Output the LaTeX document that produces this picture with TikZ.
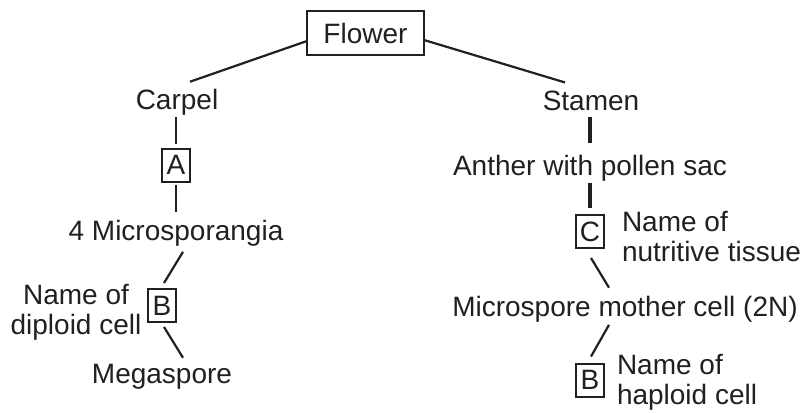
\documentclass[tikz,border=0pt]{standalone}
\usepackage{fontspec}
\setmainfont{Liberation Sans}
\usetikzlibrary{calc}
\definecolor{ink}{HTML}{231F20}
\begin{document}
\begin{tikzpicture}[x=1pt,y=-1pt,
  every node/.style={inner sep=0pt,outer sep=0pt,text=ink,
    font=\fontsize{28}{30}\selectfont},
  label box/.style={draw=ink,line width=2pt,minimum width=28pt,minimum height=33pt},
  link/.style={draw=ink,line width=2.2pt},
  stem/.style={draw=ink,line width=2.8pt},
  thickstem/.style={draw=ink,line width=3.5pt}]
\useasboundingbox (0,0) rectangle (802,412);

% root
\node[draw=ink,line width=2pt,minimum width=117pt,minimum height=44pt] (flower) at (365.5,33) {Flower};

% carpel branch
\node[anchor=base] (carpel) at (177,109) {Carpel};
\node[label box] (boxA) at (176,165) {A};
\node[anchor=base] (micro) at (176,240) {4 Microsporangia};
\node[label box] (boxB1) at (162,305.5) {B};
\node[align=center] (diploid) at (76,312) {Name of\\diploid cell};
\node[anchor=base] (mega) at (162,383) {Megaspore};

% stamen branch
\node[anchor=base] (stamen) at (591,110) {Stamen};
\node[anchor=base] (anther) at (590,175) {Anther with pollen sac};
\node[label box] (boxC) at (590,231.5) {C};
\node[anchor=west,align=left] (nutritive) at (622,237) {Name of\\nutritive tissue};
\node[anchor=base] (mmc) at (625,316) {Microspore mother cell (2N)};
\node[label box] (boxB2) at (590,380) {B};
\node[anchor=west,align=left] (haploid) at (617,382) {Name of\\haploid cell};

% connectors
\draw[link] ($(flower.west)+(0,8)$) -- ($(carpel.north)+(13,-7)$);
\draw[link] ($(flower.east)+(0,7)$) -- ($(stamen.north)+(-26,-8)$);

\draw[stem] ($(boxA.north |- carpel.south)+(0,2)$) -- ($(boxA.north)+(0,-5)$);
\draw[stem] ($(boxA.south)+(0,3)$) -- ($(boxA.south |- micro.north)+(0,-8)$);
\draw[link] ($(micro.south)+(7,6)$) -- ($(boxB1.north)+(2,-6)$);
\draw[link] ($(boxB1.south)+(2,5)$) -- ($(mega.north)+(21,-6)$);

\draw[thickstem] ($(anther.north |- stamen.south)+(0,7)$) -- ($(anther.north)+(0,-12)$);
\draw[thickstem] ($(boxC.north |- anther.south)+(0,2)$) -- ($(boxC.north)+(0,-7)$);
\draw[link] ($(boxC.south)+(1,10)$) -- ($(mmc.north)+(-16,-8)$);
\draw[link] ($(mmc.south)+(-16,3)$) -- ($(boxB2.north)+(1,-7)$);
\end{tikzpicture}
\end{document}
